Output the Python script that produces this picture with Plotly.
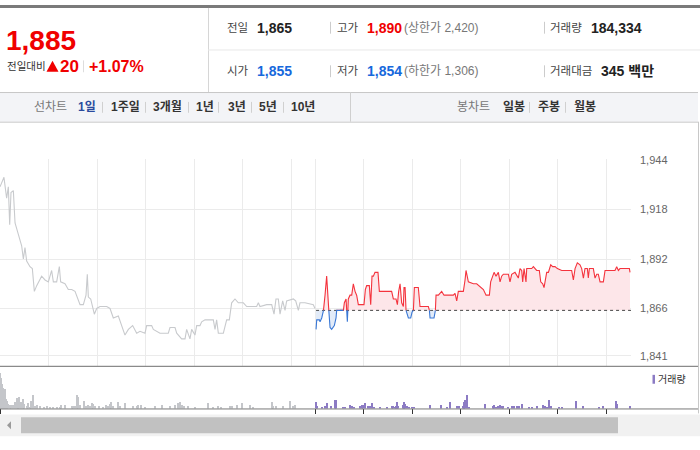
import plotly.graph_objects as go

W, H = 700, 450
FONT = "Liberation Sans, Noto Sans CJK KR, sans-serif"

# ---------------- data ----------------
prev_close = 1865
price_ticks = [1841, 1866, 1892, 1918, 1944]
price_tick_labels = ["1,841", "1,866", "1,892", "1,918", "1,944"]
# minutes since previous session open (prev day 0-390, today 390-780)
hour_marks = [0, 60, 120, 180, 240, 300, 360, 390, 450, 510, 570, 630, 690, 750]
volume_tick_marks = [0, 390, 450, 510, 570, 630, 690, 750]

prev_day = [
    (0, 1930), (4.9, 1935), (8.2, 1924), (10.3, 1930), (12, 1910), (13.6, 1927),
    (16.5, 1928), (18.6, 1911), (22.7, 1905), (26.8, 1899), (28.9, 1892), (30.9, 1898),
    (33, 1891), (37.1, 1888), (40, 1887), (42.5, 1875), (45.4, 1878), (51.5, 1883),
    (55.7, 1881), (59.8, 1880), (63.9, 1886), (66, 1880), (70.1, 1880), (73.4, 1888),
    (75, 1880), (80.4, 1879), (84.5, 1876), (88.7, 1876), (92.8, 1875), (99, 1868),
    (103.1, 1868), (106.4, 1873), (108, 1884), (109.3, 1872), (112.2, 1871), (116.7, 1863),
    (119.6, 1866), (123.7, 1867), (132, 1867), (136.1, 1866), (140.2, 1861), (146.4, 1862),
    (150.5, 1857), (154.6, 1852), (158.8, 1855), (164.1, 1857), (169.1, 1853), (173.2, 1854),
    (179.4, 1853), (181.4, 1857), (187.6, 1857), (189.7, 1855), (197.9, 1853), (208.2, 1853),
    (210.3, 1856), (216.5, 1856), (218.6, 1853), (224.7, 1850), (228.9, 1850), (230.9, 1855),
    (235, 1850), (237.1, 1855), (241.2, 1852), (243.3, 1857), (247.4, 1857), (249.5, 1859),
    (253.6, 1860), (263.9, 1860), (266, 1855), (268, 1860), (270.1, 1853), (276.3, 1853),
    (280.4, 1860), (283.7, 1860), (286.6, 1869), (290.7, 1871), (294.8, 1869), (301, 1869),
    (305.2, 1867), (317.5, 1867), (319.6, 1869), (321.6, 1867), (329.9, 1868), (336.1, 1868),
    (339, 1863), (341.4, 1871), (344.3, 1871), (346.4, 1863), (349.7, 1870), (352.6, 1865),
    (354.6, 1870), (362.9, 1871), (365.8, 1870), (369.1, 1865), (371.1, 1869), (377.3, 1869),
    (387.6, 1868), (389.7, 1866),
]

today = [
    (391.0, 1855), (391.8, 1860), (395.1, 1860), (395.9, 1859), (398.0, 1861), (400.0, 1864),
    (400.8, 1869), (402.1, 1873), (404.1, 1883), (405.4, 1871), (406.6, 1866), (408.3, 1856),
    (410.3, 1855), (413.6, 1857), (415.7, 1861), (416.5, 1865), (424.8, 1865), (426.0, 1869),
    (428.1, 1871), (429.7, 1859), (430.9, 1871), (433.0, 1873), (435.1, 1873), (437.1, 1879),
    (439.2, 1875), (441.2, 1873), (443.3, 1868), (450.3, 1868), (452.0, 1876), (453.6, 1878),
    (456.9, 1878), (458.6, 1868), (460.2, 1883), (461.9, 1883), (463.9, 1885), (467.6, 1885),
    (469.3, 1875), (484.5, 1875), (486.6, 1871), (489.9, 1871), (491.6, 1868), (493.2, 1875),
    (494.9, 1879), (496.9, 1869), (499.0, 1867), (499.8, 1877), (501.1, 1877), (502.3, 1865),
    (505.2, 1861), (508.1, 1861), (509.7, 1864), (511.4, 1865), (512.6, 1877), (517.5, 1877),
    (519.6, 1867), (529.9, 1867), (531.2, 1865), (532.0, 1861), (536.9, 1861), (538.6, 1865),
    (539.4, 1873), (542.3, 1873), (546.4, 1875), (549.3, 1873), (560.8, 1873), (562.9, 1874),
    (565.0, 1870), (567.0, 1875), (573.2, 1875), (575.3, 1881), (576.5, 1886), (579.4, 1880),
    (585.6, 1879), (589.7, 1879), (595.9, 1877), (598.0, 1876), (601.3, 1873), (605.4, 1873),
    (607.0, 1880), (609.5, 1883), (611.2, 1885), (613.6, 1883), (616.5, 1885), (618.6, 1880),
    (620.6, 1883), (622.7, 1884), (628.9, 1884), (630.9, 1880), (633.0, 1884), (637.1, 1885),
    (641.2, 1882), (643.3, 1887), (645.4, 1886), (646.6, 1880), (648.3, 1887), (650.7, 1880),
    (651.6, 1887), (657.8, 1887), (659.8, 1888), (663.9, 1886), (667.2, 1886), (668.9, 1880),
    (671.4, 1879), (673.0, 1877), (674.7, 1882), (676.3, 1885), (678.4, 1885), (681.3, 1889),
    (683.7, 1888), (686.6, 1888), (689.5, 1887), (694.9, 1886), (707.2, 1886), (709.3, 1881),
    (711.4, 1887), (714.2, 1890), (717.5, 1889), (719.6, 1887), (721.7, 1882), (723.7, 1887),
    (726.6, 1887), (727.8, 1882), (729.1, 1887), (734.0, 1887), (736.1, 1882), (738.2, 1884),
    (740.2, 1884), (742.3, 1880), (746.4, 1880), (748.5, 1886), (760.8, 1886), (762.9, 1888),
    (765.0, 1886), (767.0, 1887), (778.6, 1887), (779.4, 1885),
]

# volume (relative units)
prev_volume = [
    (0.5, 36), (1.5, 31), (3, 25), (4, 21), (5.5, 15), (6.5, 20), (8, 10), (9, 8), (10, 5),
    (12, 4), (14, 4), (16, 4), (18.5, 7), (20.5, 11), (22, 5), (24, 12), (25.5, 7), (28, 10),
    (29.5, 5), (33, 3), (35, 6), (37, 2), (39, 8), (41, 14), (43, 3), (46, 4), (50, 2.5),
    (54, 2), (58, 3), (62, 2), (66, 2), (70, 2), (74, 2), (76, 4), (80, 4), (89, 3), (91, 3),
    (93, 3), (95, 14), (96.5, 12), (99, 4), (104, 8), (106, 3), (109, 4), (112, 3), (114, 6),
    (115.5, 5), (117.5, 3), (123, 3), (128, 2), (131, 4), (134, 3), (136, 5), (138, 7),
    (140, 3), (146, 7), (148.5, 3), (155, 6), (165, 3), (169, 3), (171, 4), (175, 4),
    (180, 2), (192, 2.5), (201, 4), (210, 2.5), (217, 4), (220.5, 5.5), (222.5, 7), (225, 4),
    (228, 2.5), (233, 2.5), (241, 2), (258, 6), (264, 2), (270, 2.5), (274, 2), (284.5, 2.5),
    (287, 2.5), (293, 4), (299, 6), (309, 4), (313, 2), (336, 7), (338, 2.5), (342, 2.5),
    (350, 2.5), (359, 7.5), (363, 2.5), (365, 4),
]
today_volume = [
    (391, 6.3), (392.6, 2.3), (397.9, 1.7), (402.1, 2.3), (404.1, 5.7), (409.1, 3),
    (414.8, 8.7), (416.1, 8.7), (424.7, 1.7), (426.4, 1.7), (433, 3.7), (435.9, 2.3),
    (438.3, 1.7), (445.4, 2.3), (447.4, 3.3), (449.5, 3.7), (451.5, 5.7), (455.7, 2.3),
    (457.7, 2.7), (459.8, 5.7), (462.7, 1.7), (470.1, 2), (478.3, 1.7), (484.5, 2.7),
    (486.6, 3), (488.7, 2), (489.9, 2.7), (491.5, 7), (492.8, 2.3), (498.1, 3.7), (499.8, 7),
    (501, 4.7), (503.9, 2.3), (506.4, 2), (509.3, 2), (512.6, 1.7), (532, 3.7), (545.6, 3.7),
    (552.6, 2), (556.7, 7), (565.8, 3), (567.8, 2.3), (572.4, 2.3), (574, 6.3), (575.7, 9),
    (578.1, 13.7), (580.6, 2), (600, 4.3), (609.5, 2.7), (611.1, 3.7), (613.6, 2),
    (616.5, 2.7), (618.6, 3.7), (620.6, 3), (622.7, 2.7), (628.9, 1.7), (633, 2.3),
    (635.9, 3), (639.2, 2.3), (642.5, 2.7), (645.4, 4.3), (654.8, 2), (657.7, 2), (663.9, 3),
    (672.2, 3.3), (674.2, 2.3), (677.1, 2), (679.6, 8.3), (681.2, 2.3), (692, 2), (694.8, 1.7),
    (712.6, 7.3), (721.6, 2.3), (741.4, 1.7), (746.4, 2.7), (762.1, 7.3), (763.7, 4.3),
    (779.4, 2.7),
]

# header texts
current_price = "1,885"
change_abs = "20"
change_pct = "+1.07%"
header_row1 = [("전일", "1,865", "#222222"), ("고가", "1,890", "#f00000"), ("거래량", "184,334", "#222222")]
header_row2 = [("시가", "1,855", "#1668dc"), ("저가", "1,854", "#1668dc"), ("거래대금", "345 백만", "#222222")]
limit_texts = ["(상한가 2,420)", "(하한가 1,306)"]
line_tabs = ["1일", "1주일", "3개월", "1년", "3년", "5년", "10년"]
candle_tabs = ["일봉", "주봉", "월봉"]

RED = "#f00000"
BLUE = "#1668dc"

# ---------------- helpers ----------------
def split_series(xs, ys, base):
    X, Y = [], []
    for i in range(len(xs)):
        if i > 0:
            y0, y1 = ys[i - 1], ys[i]
            if (y0 - base) * (y1 - base) < 0:
                t = (base - y0) / (y1 - y0)
                X.append(xs[i - 1] + t * (xs[i] - xs[i - 1]))
                Y.append(base)
        X.append(xs[i])
        Y.append(ys[i])
    up_line = [y if y >= base else None for y in Y]
    dn_line = [y if y <= base else None for y in Y]
    up_fill = [max(y, base) for y in Y]
    dn_fill = [min(y, base) for y in Y]
    return X, up_line, dn_line, up_fill, dn_fill


fig = go.Figure()

px_, py_ = zip(*prev_day)
tx, ty = zip(*today)
X, up_line, dn_line, up_fill, dn_fill = split_series(list(tx), list(ty), prev_close)
base = [prev_close] * len(X)

fig.add_trace(go.Scatter(x=X, y=base, mode="lines", line=dict(width=0), hoverinfo="skip", showlegend=False))
fig.add_trace(go.Scatter(x=X, y=up_fill, mode="lines", line=dict(width=0), fill="tonexty",
                         fillcolor="#fde6e9", hoverinfo="skip", showlegend=False))
fig.add_trace(go.Scatter(x=X, y=base, mode="lines", line=dict(width=0), hoverinfo="skip", showlegend=False))
fig.add_trace(go.Scatter(x=X, y=dn_fill, mode="lines", line=dict(width=0), fill="tonexty",
                         fillcolor="#e2ebf8", hoverinfo="skip", showlegend=False))

fig.add_trace(go.Scatter(x=list(px_), y=list(py_), mode="lines", line=dict(color="#c8cacd", width=1.1),
                         hoverinfo="skip", showlegend=False))
fig.add_trace(go.Scatter(x=[tx[0], 780.6], y=[prev_close, prev_close], mode="lines",
                         line=dict(color="#444444", width=1, dash="dot"), hoverinfo="skip", showlegend=False))
fig.add_trace(go.Scatter(x=X, y=up_line, mode="lines", line=dict(color="#f4333d", width=1.1),
                         connectgaps=False, hoverinfo="skip", showlegend=False))
fig.add_trace(go.Scatter(x=X, y=dn_line, mode="lines", line=dict(color="#3a78d6", width=1.1),
                         connectgaps=False, hoverinfo="skip", showlegend=False))

pvx, pvy = zip(*prev_volume)
tvx, tvy = zip(*today_volume)
fig.add_trace(go.Bar(x=list(pvx), y=list(pvy), width=1.4, marker=dict(color="#c4c6ca", line=dict(width=0)),
                     xaxis="x2", yaxis="y2", hoverinfo="skip", showlegend=False))
fig.add_trace(go.Bar(x=list(tvx), y=list(tvy), width=1.4, marker=dict(color="#8c7bc4", line=dict(width=0)),
                     xaxis="x2", yaxis="y2", hoverinfo="skip", showlegend=False))

XR = [0, 780.6]
fig.update_layout(
    width=W, height=H, autosize=False,
    margin=dict(l=0, r=0, t=0, b=0),
    paper_bgcolor="white", plot_bgcolor="white",
    showlegend=False, bargap=0,
    font=dict(family=FONT),
    xaxis=dict(domain=[0, 631 / W], range=XR, tickvals=hour_marks, showticklabels=False,
               showgrid=True, gridcolor="#ebebeb", gridwidth=1, zeroline=False, showline=False,
               ticks="", anchor="y", fixedrange=True),
    yaxis=dict(domain=[1 - 365.5 / H, 1 - 156 / H], range=[1835.5, 1944.5], side="right",
               tickvals=price_ticks, ticktext=price_tick_labels, showgrid=True, gridcolor="#ebebeb",
               gridwidth=1, zeroline=False, showline=False, ticks="",
               tickfont=dict(size=11, color="#666666", family=FONT), ticklabelstandoff=8,
               anchor="x", fixedrange=True),
    xaxis2=dict(domain=[0, 631 / W], range=XR, tickvals=volume_tick_marks, showticklabels=False,
                ticks="outside", ticklen=5, tickcolor="#333333", tickwidth=1, showgrid=False,
                zeroline=False, showline=False, anchor="y2", fixedrange=True),
    yaxis2=dict(domain=[1 - 408 / H, 1 - 368 / H], range=[0, 40], showticklabels=False,
                showgrid=False, zeroline=False, showline=False, ticks="", anchor="x2", fixedrange=True),
)


def rect(x0, y0, x1, y1, fill, layer="below"):
    fig.add_shape(type="rect", xref="paper", yref="paper", x0=x0 / W, x1=x1 / W,
                  y0=1 - y1 / H, y1=1 - y0 / H, fillcolor=fill, line=dict(width=0), layer=layer)


def line(x0, y0, x1, y1, color, width=1, layer="above"):
    fig.add_shape(type="line", xref="paper", yref="paper", x0=x0 / W, x1=x1 / W,
                  y0=1 - y0 / H, y1=1 - y1 / H, line=dict(color=color, width=width), layer=layer)


def tri(points, color):
    d = "M " + " L ".join(f"{x / W},{1 - y / H}" for x, y in points) + " Z"
    fig.add_shape(type="path", xref="paper", yref="paper", path=d, fillcolor=color,
                  line=dict(width=0), layer="above")


def text(x, y, s, size, color, bold=False, anchor="left"):
    if bold:
        s = "<b>" + s + "</b>"
    fig.add_annotation(x=x / W, y=1 - y / H, xref="paper", yref="paper", text=s, showarrow=False,
                       xanchor=anchor, yanchor="middle", borderpad=0,
                       font=dict(size=size, color=color, family=FONT))


# top strip
rect(0, 0, 700, 3, "#7a7a7a")
# header dividers
line(208.5, 3, 208.5, 88, "#d6d6d6")
line(208, 45.5, 700, 45.5, "#e8e8e8")

# current price block
text(5, 36, current_price, 28, RED, bold=True)
text(6, 62, "전일대비", 10.5, "#333333")
tri([(52.5, 56.5), (58.5, 67.5), (46.5, 67.5)], RED)
text(59, 62, change_abs, 17, RED, bold=True)
line(83.5, 56, 83.5, 68, "#dddddd")
text(88, 62, change_pct, 16, RED, bold=True)

# detail rows
label_x = [226, 336, 549]
value_x = [256, 366, 590]
for row, yy in ((header_row1, 23), (header_row2, 67)):
    for (lab, val, col), lx, vx in zip(row, label_x, value_x):
        text(lx, yy, lab, 11.5, "#444444")
        text(vx + (10 if lab == "거래대금" else 0), yy, val, 14, col, bold=True)
text(403, 23, limit_texts[0], 12, "#777777")
text(403, 67, limit_texts[1], 12, "#777777")
for yy in (23, 67):
    line(330.5, yy - 6, 330.5, yy + 6, "#cccccc")
    line(544.5, yy - 6, 544.5, yy + 6, "#cccccc")

# tab bar
rect(0, 88, 698, 118, "#f3f4f7")
line(0, 88.5, 698, 88.5, "#c8c8c8")
line(0, 118.5, 698, 118.5, "#c8c8c8")
line(350.5, 88, 350.5, 118, "#cfcfcf")
text(33, 103, "선차트", 12, "#777777")
tab_x = [77, 110, 152, 195, 227, 258, 290]
for i, (lab, xx) in enumerate(zip(line_tabs, tab_x)):
    text(xx, 103, lab, 12, "#2a4a9e" if i == 0 else "#333333", bold=True)
for sx in (102.5, 145.5, 188.5, 218.5, 251.5, 283.5):
    line(sx, 98, sx, 109, "#d0d0d0")
text(456, 103, "봉차트", 12, "#777777")
for lab, xx in zip(candle_tabs, (502, 537, 573)):
    text(xx, 103, lab, 12, "#333333", bold=True)
for sx in (529.5, 565.5):
    line(sx, 98, sx, 109, "#d0d0d0")

# chart frame lines
line(698.5, 118, 698.5, 413, "#c8c8c8")
line(0, 365.5, 698, 365.5, "#8a8a8a", width=1.3)
line(0, 408.5, 698, 408.5, "#7a7a7a", width=1)

# volume legend
rect(652.5, 374, 655, 383, "#8c7bc4", layer="above")
text(657, 378.5, "거래량", 10, "#333333")

# scrollbar
rect(0, 414, 700, 436, "#f1f1f1")
rect(21, 417, 618, 433, "#c1c1c1")
tri([(7, 425), (11, 421), (11, 429)], "#9a9a9a")

fig.write_html(
    "out.html",
    config={"displayModeBar": False},
    post_script="document.body.style.margin='0';document.body.style.overflow='hidden';",
)
